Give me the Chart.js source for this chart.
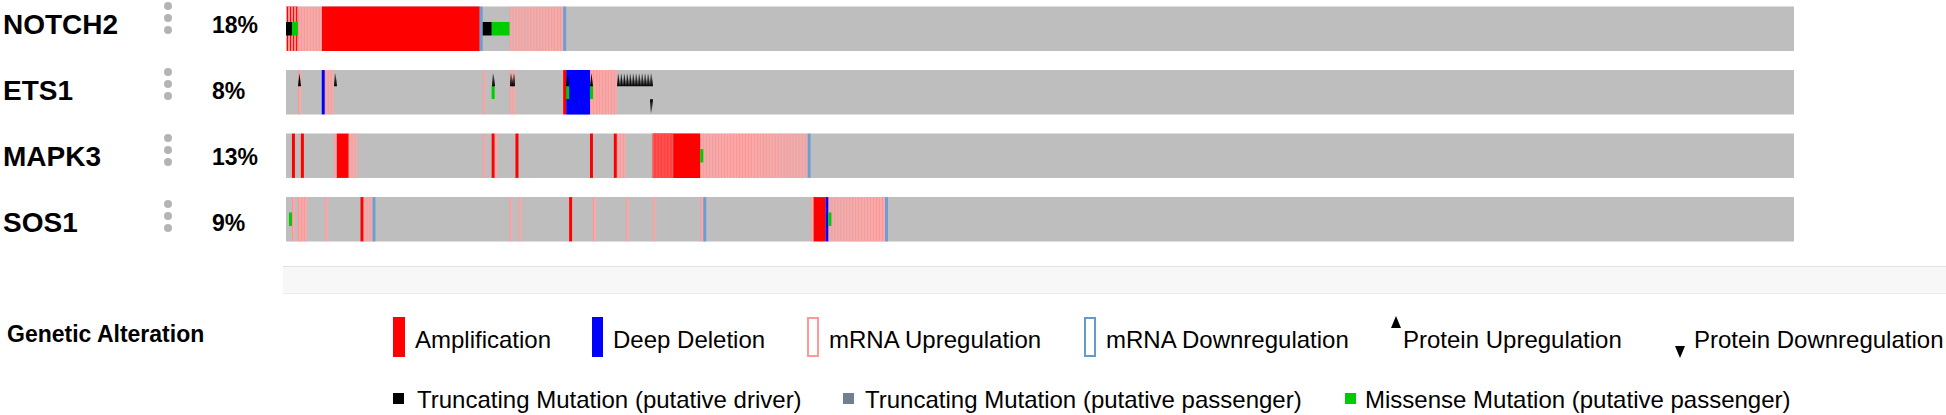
<!DOCTYPE html>
<html><head><meta charset="utf-8">
<script src="https://cdn.jsdelivr.net/npm/chart.js@4/dist/chart.umd.min.js"></script>
<style>
html,body{margin:0;padding:0;background:#fff;width:1946px;height:415px;overflow:hidden;font-family:"Liberation Sans",Arial,Helvetica,sans-serif;color:#000}
#wrap{position:relative;width:1946px;height:415px}
.abs{position:absolute;white-space:nowrap}
.gene{font-weight:bold;font-size:28px;line-height:28px;left:3px}
.pct{font-weight:bold;font-size:23px;line-height:23px;left:212px}
.dot{width:8px;height:8px;border-radius:50%;background:#b4b4b4;left:164px}
.lt{font-size:24px;line-height:24px}
.sw{position:absolute;box-sizing:border-box}
#chart{position:absolute;left:281px;top:-8px}
#scroll{position:absolute;left:283px;top:266px;width:1663px;height:28px;background:#f7f7f7;border-top:1px solid #e2e2e2;border-bottom:1px solid #ebebf0;box-sizing:border-box}
</style></head><body><div id="wrap">
<canvas id="chart" width="1518" height="264"></canvas>
<div id="scroll"></div>
<div class="abs" style="left:7px;top:322.6px;font-weight:bold;font-size:23px;line-height:23px">Genetic Alteration</div>

<div class="sw" style="left:393px;top:317px;width:12px;height:40px;background:#ff0000"></div>
<div class="abs lt" style="left:415px;top:328.2px">Amplification</div>
<div class="sw" style="left:592px;top:317px;width:11px;height:40px;background:#0000ff"></div>
<div class="abs lt" style="left:613px;top:328.2px">Deep Deletion</div>
<div class="sw" style="left:807px;top:317px;width:12px;height:40px;border:2px solid #ff9999;background:#fff"></div>
<div class="abs lt" style="left:829px;top:328.2px">mRNA Upregulation</div>
<div class="sw" style="left:1084px;top:317px;width:12px;height:40px;border:2px solid #6699cc;background:#fff"></div>
<div class="abs lt" style="left:1106px;top:328.2px">mRNA Downregulation</div>
<div class="sw" style="left:1391px;top:316px;width:0;height:0;border-left:5px solid transparent;border-right:5px solid transparent;border-bottom:12px solid #000"></div>
<div class="abs lt" style="left:1403px;top:328.2px">Protein Upregulation</div>
<div class="sw" style="left:1675px;top:346px;width:0;height:0;border-left:5px solid transparent;border-right:5px solid transparent;border-top:12px solid #000"></div>
<div class="abs lt" style="left:1694px;top:328.2px">Protein Downregulation</div>

<div class="sw" style="left:393px;top:393px;width:11px;height:11px;background:#000"></div>
<div class="abs lt" style="left:417px;top:387.7px">Truncating Mutation (putative driver)</div>
<div class="sw" style="left:843px;top:393px;width:11px;height:11px;background:#708090"></div>
<div class="abs lt" style="left:865px;top:387.7px">Truncating Mutation (putative passenger)</div>
<div class="sw" style="left:1345px;top:393px;width:11px;height:11px;background:#00cc00"></div>
<div class="abs lt" style="left:1365px;top:387.7px">Missense Mutation (putative passenger)</div>
</div>
<script>
// ---------- data ----------
const N_SAMPLES = 506;
const GENES = ['NOTCH2', 'ETS1', 'MAPK3', 'SOS1'];
const PERCENT_LABELS = ['18%', '8%', '13%', '9%'];

// runs of sample indices [first, last] per gene and alteration type
const NOTCH2_AMP = [[0,3],[12,64]];
const NOTCH2_DEL = [];
const NOTCH2_MRNA_UP = [[0,11],[75,92]];
const NOTCH2_MRNA_DOWN = [[65,65],[93,93]];
const NOTCH2_TRUNC_DRIVER = [[0,1],[66,68]];
const NOTCH2_MISSENSE = [[2,3],[69,74]];
const NOTCH2_PROT_UP = [];
const NOTCH2_PROT_DOWN = [];

const ETS1_AMP = [[93,93]];
const ETS1_DEL = [[12,12],[94,101]];
const ETS1_MRNA_UP = [[4,4],[13,15],[66,66],[75,76],[102,110]];
const ETS1_MRNA_DOWN = [];
const ETS1_TRUNC_DRIVER = [];
const ETS1_MISSENSE = [[69,69],[94,94],[102,102]];
const ETS1_PROT_UP = [[4,4],[16,16],[69,69],[75,76],[94,94],[102,102],[111,122]];
const ETS1_PROT_DOWN = [[122,122]];

const MAPK3_AMP = [[2,2],[5,5],[17,20],[69,69],[77,77],[102,102],[110,110],[123,138]];
const MAPK3_DEL = [];
const MAPK3_MRNA_UP = [[16,16],[21,23],[66,66],[70,70],[111,113],[123,129],[139,174]];
const MAPK3_MRNA_DOWN = [[175,175]];
const MAPK3_TRUNC_DRIVER = [];
const MAPK3_MISSENSE = [[139,139]];
const MAPK3_PROT_UP = [];
const MAPK3_PROT_DOWN = [];

const SOS1_AMP = [[25,25],[95,95],[177,180]];
const SOS1_DEL = [[181,181]];
const SOS1_MRNA_UP = [[2,2],[4,6],[13,13],[26,28],[75,75],[78,78],[103,103],[114,114],[123,123],[139,139],[176,176],[182,200]];
const SOS1_MRNA_DOWN = [[29,29],[140,140],[201,201]];
const SOS1_TRUNC_DRIVER = [];
const SOS1_MISSENSE = [[1,1],[182,182]];
const SOS1_PROT_UP = [];
const SOS1_PROT_DOWN = [];

// ---------- table built from the arrays ----------
const TABLE = {
  NOTCH2: {amp: NOTCH2_AMP, del: NOTCH2_DEL, up: NOTCH2_MRNA_UP, down: NOTCH2_MRNA_DOWN, trunc: NOTCH2_TRUNC_DRIVER, mis: NOTCH2_MISSENSE, pup: NOTCH2_PROT_UP, pdown: NOTCH2_PROT_DOWN},
  ETS1: {amp: ETS1_AMP, del: ETS1_DEL, up: ETS1_MRNA_UP, down: ETS1_MRNA_DOWN, trunc: ETS1_TRUNC_DRIVER, mis: ETS1_MISSENSE, pup: ETS1_PROT_UP, pdown: ETS1_PROT_DOWN},
  MAPK3: {amp: MAPK3_AMP, del: MAPK3_DEL, up: MAPK3_MRNA_UP, down: MAPK3_MRNA_DOWN, trunc: MAPK3_TRUNC_DRIVER, mis: MAPK3_MISSENSE, pup: MAPK3_PROT_UP, pdown: MAPK3_PROT_DOWN},
  SOS1: {amp: SOS1_AMP, del: SOS1_DEL, up: SOS1_MRNA_UP, down: SOS1_MRNA_DOWN, trunc: SOS1_TRUNC_DRIVER, mis: SOS1_MISSENSE, pup: SOS1_PROT_UP, pdown: SOS1_PROT_DOWN}
};

function inRuns(i, runs) { return runs.some(([s, e]) => i >= s && i <= e); }
function runBars(key) {
  const out = [];
  GENES.forEach(g => TABLE[g][key].forEach(([s, e]) => out.push({x: [s, e + 1], y: g})));
  return out;
}
function sampleBars(key) {
  const out = [];
  GENES.forEach(g => TABLE[g][key].forEach(([s, e]) => {
    for (let i = s; i <= e; i++) out.push({x: [i, i + 1], y: g, cna: inRuns(i, TABLE[g].amp) || inRuns(i, TABLE[g].del)});
  }));
  return out;
}
function samplePoints(key) {
  const out = [];
  GENES.forEach(g => TABLE[g][key].forEach(([s, e]) => {
    for (let i = s; i <= e; i++) out.push({x: i + 0.5, y: g});
  }));
  return out;
}

// ---------- labels ----------
const ROW_CENTERS = [25, 91, 157, 223];
const wrap = document.getElementById('wrap');
GENES.forEach((g, k) => {
  const c = ROW_CENTERS[k];
  const d = document.createElement('div');
  d.className = 'abs gene'; d.style.top = (c - 13.7) + 'px'; d.textContent = g; wrap.appendChild(d);
  [-19, -7, 5].forEach(o => {
    const dot = document.createElement('div');
    dot.className = 'abs dot'; dot.style.top = (c + o - 4) + 'px'; wrap.appendChild(dot);
  });
  const p = document.createElement('div');
  p.className = 'abs pct'; p.style.top = (c - 10.9) + 'px'; p.textContent = PERCENT_LABELS[k]; wrap.appendChild(p);
});

// ---------- triangle glyphs ----------
function tri(up) {
  const c = document.createElement('canvas');
  c.width = 3; c.height = 46;
  const x = c.getContext('2d');
  x.fillStyle = '#000';
  x.beginPath();
  if (up) { x.moveTo(0, 17); x.lineTo(3, 17); x.lineTo(1.5, 4); }
  else { x.moveTo(0, 30); x.lineTo(3, 30); x.lineTo(1.5, 44); }
  x.closePath(); x.fill();
  return c;
}

const ROW_PCT = 46 / 66;
const MUT_PCT = 14 / 66;
const common = {grouped: false, categoryPercentage: 1, borderSkipped: false, borderWidth: 0};

new Chart(document.getElementById('chart'), {
  type: 'bar',
  data: {
    datasets: [
      {type: 'scatter', indexAxis: 'x', data: samplePoints('pup'), pointStyle: tri(true), pointRadius: 2, order: 0},
      {type: 'scatter', indexAxis: 'x', data: samplePoints('pdown'), pointStyle: tri(false), pointRadius: 2, order: 0},
      Object.assign({}, common, {data: runBars('trunc'), backgroundColor: '#000000', barPercentage: MUT_PCT, order: 1}),
      Object.assign({}, common, {data: runBars('mis'), backgroundColor: '#00cc00', barPercentage: MUT_PCT, order: 1}),
      Object.assign({}, common, {data: sampleBars('up'), barPercentage: ROW_PCT, order: 3,
        backgroundColor: c => (c.raw && c.raw.cna) ? 'rgba(0,0,0,0)' : '#ffa6a6',
        borderColor: c => (c.raw && c.raw.cna) ? '#ff9999' : '#ff9494',
        borderWidth: c => (c.raw && c.raw.cna) ? {left: 1, right: 1, top: 0, bottom: 0} : {left: 1, right: 0, top: 0, bottom: 0}}),
      Object.assign({}, common, {data: sampleBars('down'), backgroundColor: '#6a9fd6', barPercentage: ROW_PCT, order: 3}),
      Object.assign({}, common, {data: runBars('amp'), backgroundColor: '#ff0000', barPercentage: ROW_PCT, order: 5}),
      Object.assign({}, common, {data: runBars('del'), backgroundColor: '#0000ff', barPercentage: ROW_PCT, order: 5}),
      Object.assign({}, common, {data: GENES.map(g => ({x: [0, N_SAMPLES], y: g})), backgroundColor: '#bebebe', barPercentage: ROW_PCT, order: 10})
    ]
  },
  options: {
    indexAxis: 'y', responsive: false, animation: false, events: [],
    layout: {padding: 0},
    plugins: {legend: {display: false}, tooltip: {enabled: false}},
    scales: {
      x: {type: 'linear', min: 0, max: N_SAMPLES, display: false},
      y: {type: 'category', labels: GENES, display: false, offset: true}
    }
  }
});
</script>
</body></html>
